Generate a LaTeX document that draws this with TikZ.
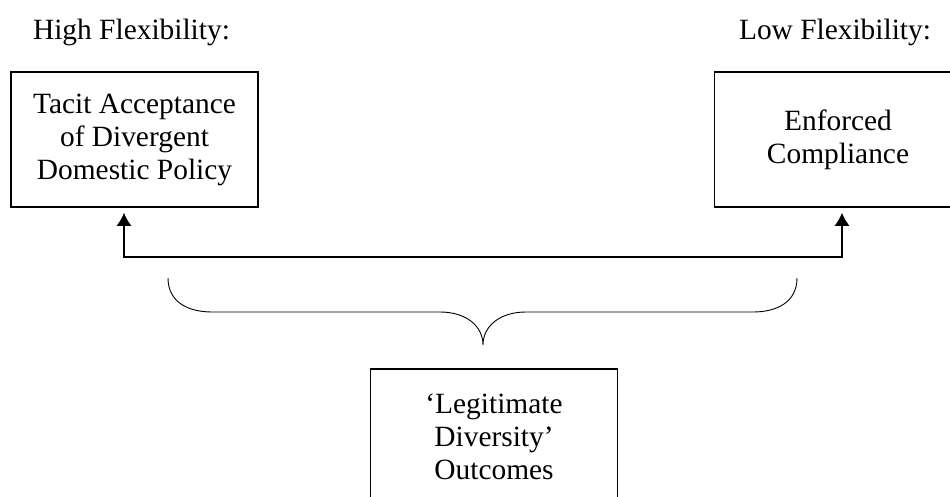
\documentclass[tikz,border=0pt]{standalone}
\usepackage{fontspec}
\setmainfont{Liberation Serif}
\usetikzlibrary{arrows.meta,positioning}

\tikzset{
  optbox/.style={draw,line width=1.5pt,minimum width=247pt,minimum height=135pt,
    align=center,inner sep=0pt},
  flexlabel/.style={anchor=base,inner sep=0pt},
  link/.style={line width=1.5pt,{Latex[length=13pt,width=15pt]}-{Latex[length=13pt,width=15pt]},
    shorten <=5pt,shorten >=5pt},
  brace/.style={line width=0.9pt}
}

\begin{document}
\begin{tikzpicture}[x=1pt,y=-1pt,font=\fontsize{29.4}{33}\selectfont]
          \path[use as bounding box,clip] (0,0) rectangle (950,497);
          \node[optbox] (tacit) at (134.5,139.5) {Tacit Acceptance\\of Divergent\\Domestic Policy};
          \node[optbox] (enforced) at (838,139.5) {Enforced\\Compliance};
          \node[optbox] (legit) at (494,436.5) {‘Legitimate\\Diversity’\\Outcomes};
          \node[flexlabel] (high) at ([xshift=-3pt,yshift=32pt]tacit.north) {High Flexibility:};
          \node[flexlabel] (low) at ([xshift=-3pt,yshift=32pt]enforced.north) {Low Flexibility:};
          \coordinate (jl) at (124,257);
          \coordinate (jr) at (842,257);
          \draw[link] (tacit.south -| jl) |- (jr) -- (enforced.south -| jr);
          \draw[brace] (168,278) .. controls (168,302) and (188,312) .. (212,312) -- (440,312)
            .. controls (466,312) and (483,326) .. (483,345)
            .. controls (483,326) and (500,312) .. (526,312) -- (753,312)
            .. controls (777,312) and (797,302) .. (797,278);
        \end{tikzpicture}
\end{document}
